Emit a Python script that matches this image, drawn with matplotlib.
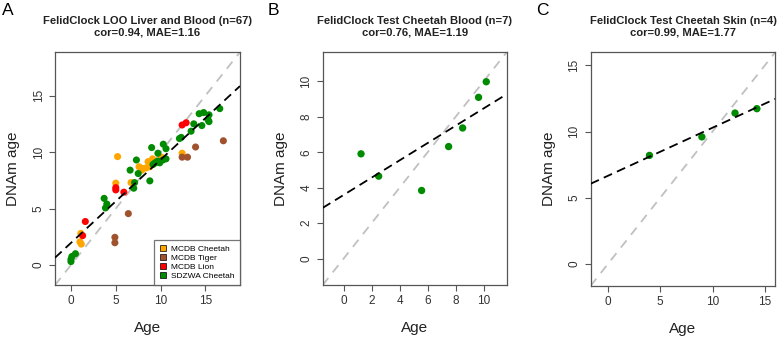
import numpy as np
import matplotlib
matplotlib.use('Agg')
import matplotlib.pyplot as plt
from matplotlib.lines import Line2D

plt.rcParams['font.family'] = ['Liberation Sans', 'DejaVu Sans']

# Panel A: leave-one-out, liver and blood, by source
cheetahAge = [1.1, 1.0, 1.15, 5.0, 5.2, 6.7, 7.6, 8.0, 8.4, 8.6, 8.8, 9.1, 10.1, 12.4, 7.9]
cheetahDnam = [2.8, 2.05, 1.85, 7.25, 9.6, 7.3, 8.7, 8.55, 8.6, 9.15, 8.7, 9.4, 9.55, 9.9, 8.4]
tigerAge = [4.9, 4.9, 6.4, 12.4, 13.0, 13.9, 17.0]
tigerDnam = [2.45, 1.97, 4.55, 9.55, 9.55, 10.45, 11.0]
lionAge = [1.3, 1.6, 5.0, 5.0, 5.9, 12.4, 12.85]
lionDnam = [2.6, 3.85, 6.85, 6.65, 6.45, 12.4, 12.6]
sdzwaAge = [0.5, 0.1, 0.0, 0.0, 3.7, 4.0, 3.85, 7.0, 7.1, 6.6, 7.5, 8.8, 7.3, 9.0, 9.15,
            9.7, 9.9, 9.7, 10.25, 10.6, 10.3, 10.6, 12.1, 12.3, 13.4, 13.7, 14.6, 14.3,
            14.8, 15.4, 15.3, 15.4, 16.6, 9.3, 9.5]
sdzwaDnam = [1.0, 0.75, 0.5, 0.3, 5.9, 5.4, 5.05, 6.8, 7.3, 8.4, 8.1, 7.45, 9.3, 10.4, 8.9,
             9.2, 9.05, 9.9, 9.3, 9.4, 10.7, 10.3, 11.2, 11.3, 11.85, 12.5, 12.35, 13.4,
             13.5, 13.3, 12.85, 12.7, 13.85, 9.0, 9.1]

# Panel B: test set, cheetah blood
bloodAge = [1.24, 2.5, 5.57, 7.5, 8.5, 9.64, 10.19]
bloodDnam = [5.91, 4.65, 3.84, 6.32, 7.37, 9.1, 9.98]

# Panel C: test set, cheetah skin
skinAge = [3.97, 8.98, 12.15, 14.24]
skinDnam = [8.2, 9.6, 11.4, 11.73]

groupNames = ['MCDB Cheetah', 'MCDB Tiger', 'MCDB Lion', 'SDZWA Cheetah']
groupColors = ['#FFA500', '#A0522D', '#FF0000', '#008B00']

def stylePanel(ax, lims, ticks, title):
    ax.set_xlim(lims)
    ax.set_ylim(lims)
    ax.set_xticks(ticks)
    ax.set_yticks(ticks)
    for s in ax.spines.values():
        s.set_color('#555555')
        s.set_linewidth(0.9)
    ax.tick_params(direction='out', length=4, width=0.8, colors='#555555',
                   labelcolor='#333333', labelsize=8.5)
    ax.tick_params(axis='y', labelrotation=90)
    for lab in ax.get_yticklabels():
        lab.set_va('center')
    ax.set_xlabel('Age', fontsize=11, color='#222222', labelpad=10)
    ax.set_ylabel('DNAm age', fontsize=11, color='#222222', labelpad=9)
    ax.set_title(title, fontsize=8.1, fontweight='bold', color='#222222', pad=12)

def fitLines(ax, x, y, lims):
    xs = np.array(lims)
    ax.plot(xs, xs, color='#C0C0C0', lw=1.3, ls=(0, (5, 4)), zorder=1)
    slope, icpt = np.polyfit(x, y, 1)
    ax.plot(xs, icpt + slope * xs, color='black', lw=1.3, ls=(0, (5, 3)), zorder=3)

fig = plt.figure(figsize=(7.77, 3.41), dpi=100)
axA = fig.add_axes([0.0708, 0.164, 0.238, 0.683])
axB = fig.add_axes([0.4153, 0.164, 0.2368, 0.683])
axC = fig.add_axes([0.7602, 0.162, 0.2376, 0.685])

for letter, xpos in zip(['A', 'B', 'C'], [2, 268, 536]):
    fig.text(xpos / 777, 1 - 3 / 341, letter, fontsize=12.5, va='top', ha='left')

# A
limsA = (-1.78, 18.85)
allAge = cheetahAge + tigerAge + lionAge + sdzwaAge
allDnam = cheetahDnam + tigerDnam + lionDnam + sdzwaDnam
fitLines(axA, allAge, allDnam, limsA)
for xs, ys, c in zip([cheetahAge, tigerAge, lionAge, sdzwaAge],
                     [cheetahDnam, tigerDnam, lionDnam, sdzwaDnam], groupColors):
    axA.scatter(xs, ys, s=26, color=c, edgecolors='none', zorder=2)
stylePanel(axA, limsA, [0, 5, 10, 15],
           'FelidClock LOO Liver and Blood (n=67)\ncor=0.94, MAE=1.16')
handles = [Line2D([], [], marker='s', ls='none', markersize=4, markerfacecolor=c,
                  markeredgecolor='black', markeredgewidth=0.5) for c in groupColors]
leg = axA.legend(handles, groupNames, loc='lower right', fontsize=6, frameon=True,
                 fancybox=False, borderaxespad=0, handletextpad=0.5, labelspacing=0.15,
                 borderpad=0.6, handlelength=1.0)
leg.get_frame().set_edgecolor('#555555')
leg.get_frame().set_linewidth(0.9)

# B
limsB = (-1.5, 11.65)
fitLines(axB, bloodAge, bloodDnam, limsB)
axB.scatter(bloodAge, bloodDnam, s=28, color=groupColors[3], edgecolors='none', zorder=2)
stylePanel(axB, limsB, [0, 2, 4, 6, 8, 10],
           'FelidClock Test Cheetah Blood (n=7)\ncor=0.76, MAE=1.19')

# C
limsC = (-1.65, 16.0)
fitLines(axC, skinAge, skinDnam, limsC)
axC.scatter(skinAge, skinDnam, s=28, color=groupColors[3], edgecolors='none', zorder=2)
stylePanel(axC, limsC, [0, 5, 10, 15],
           'FelidClock Test Cheetah Skin (n=4)\ncor=0.99, MAE=1.77')

fig.savefig('out.png', dpi=100)
